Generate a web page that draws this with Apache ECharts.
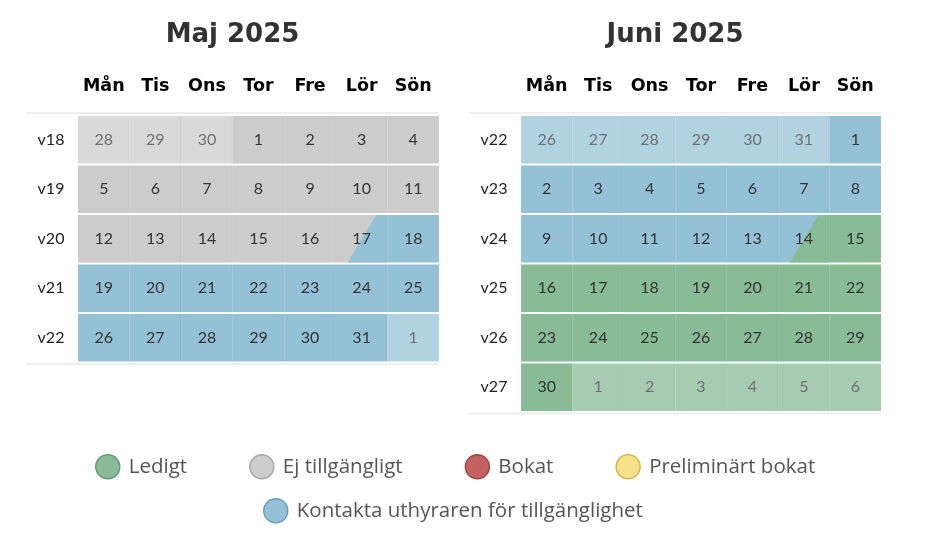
<!DOCTYPE html>
<html><head><meta charset="utf-8">
<script src="https://cdn.jsdelivr.net/npm/echarts@6/dist/echarts.min.js"></script>
<style>html,body{margin:0;padding:0;background:#fff}#c{width:952px;height:560px}</style>
</head><body><div id="c"></div>
<script>
const weekdays = ['Mån','Tis','Ons','Tor','Fre','Lör','Sön'];
const majTitle = 'Maj 2025';
const juniTitle = 'Juni 2025';
const majWeeks = ['v18','v19','v20','v21','v22'];
const juniWeeks = ['v22','v23','v24','v25','v26','v27'];
const majDays = [
  [28,29,30,1,2,3,4],
  [5,6,7,8,9,10,11],
  [12,13,14,15,16,17,18],
  [19,20,21,22,23,24,25],
  [26,27,28,29,30,31,1]
];
const majStatus = [
  ['E','E','E','E','E','E','E'],
  ['E','E','E','E','E','E','E'],
  ['E','E','E','E','E','E>K','K'],
  ['K','K','K','K','K','K','K'],
  ['K','K','K','K','K','K','K']
];
const majOutside = [
  [1,1,1,0,0,0,0],
  [0,0,0,0,0,0,0],
  [0,0,0,0,0,0,0],
  [0,0,0,0,0,0,0],
  [0,0,0,0,0,0,1]
];
const juniDays = [
  [26,27,28,29,30,31,1],
  [2,3,4,5,6,7,8],
  [9,10,11,12,13,14,15],
  [16,17,18,19,20,21,22],
  [23,24,25,26,27,28,29],
  [30,1,2,3,4,5,6]
];
const juniStatus = [
  ['K','K','K','K','K','K','K'],
  ['K','K','K','K','K','K','K'],
  ['K','K','K','K','K','K>L','L'],
  ['L','L','L','L','L','L','L'],
  ['L','L','L','L','L','L','L'],
  ['L','L','L','L','L','L','L']
];
const juniOutside = [
  [1,1,1,1,1,1,0],
  [0,0,0,0,0,0,0],
  [0,0,0,0,0,0,0],
  [0,0,0,0,0,0,0],
  [0,0,0,0,0,0,0],
  [0,1,1,1,1,1,1]
];
const legendRow1 = ['Ledigt','Ej tillgängligt','Bokat','Preliminärt bokat'];
const legendRow2 = ['Kontakta uthyraren för tillgänglighet'];
const legendCodes = {'Ledigt':'L','Ej tillgängligt':'E','Bokat':'B','Preliminärt bokat':'P','Kontakta uthyraren för tillgänglighet':'K'};

const fill = {
  L:{in:'#88bb96', out:'#a6cbb1', border:'#5f9c70'},
  E:{in:'#cccccc', out:'#d9d9d9', border:'#a9a9a9'},
  K:{in:'#95c1d7', out:'#b1d2e1', border:'#6c9bb3'},
  B:{in:'#c46262', out:'#d99090', border:'#a04545'},
  P:{in:'#f5e289', out:'#f8ecb0', border:'#cfb94e'}
};

function buildData(days){
  const d = [];
  days.forEach((row,r)=>row.forEach((day,c)=>d.push([c,r,day])));
  return d;
}

function makeRender(statusArr, outArr){
  return function(params, api){
    const c = api.value(0), r = api.value(1), day = api.value(2);
    const p = api.coord([c, r]);
    const sz = api.size([1, 1]);
    const w = sz[0], h = sz[1];
    const x0 = p[0] - w/2, x1 = p[0] + w/2;
    const y0 = p[1] - h/2 + 1, y1 = p[1] + h/2 - 1;
    const out = outArr[r][c] === 1;
    const s = statusArr[r][c].split('>');
    const colA = fill[s[0]][out ? 'out' : 'in'];
    const children = [{type:'rect', shape:{x:x0, y:y0, width:w, height:y1-y0}, style:{fill:colA}}];
    if (s.length > 1) {
      const colB = fill[s[1]][out ? 'out' : 'in'];
      const xt = x0 + w*0.78, xb = x0 + w*0.23;
      children.push({type:'polygon', shape:{points:[[xt,y0],[x1,y0],[x1,y1],[xb,y1]]}, style:{fill:colB}});
    }
    if (c < 6) {
      children.push({type:'line', shape:{x1:x1-0.5, y1:y0, x2:x1-0.5, y2:y1}, style:{stroke:'rgba(0,0,0,0.06)', lineWidth:1}});
    }
    children.push({type:'text', style:{text:String(day), x:p[0], y:(y0+y1)/2, align:'center', verticalAlign:'middle',
      fill: out ? '#707070' : '#333333', fontSize:16, fontFamily:'Lato'}});
    return {type:'group', children};
  };
}

const grids = [
  {left:78, top:115, width:361, height:247.5},
  {left:521, top:115, width:360, height:297}
];

function xAx(i){
  return {gridIndex:i, type:'category', data:weekdays, position:'top',
    axisLine:{show:false}, axisTick:{show:false}, splitLine:{show:false},
    axisLabel:{interval:0, hideOverlap:false, margin:29, verticalAlign:'middle', fontSize:17.5, fontWeight:'bold', fontFamily:'DejaVu Sans', color:'#000'}};
}
function yAx(i, weeks){
  return {gridIndex:i, type:'category', data:weeks, inverse:true,
    axisLine:{show:false}, axisTick:{show:false}, splitLine:{show:false},
    axisLabel:{interval:0, margin:27, align:'center', fontSize:16, fontFamily:'Lato', color:'#222'}};
}

const legendSeries = legendRow1.concat(legendRow2).map(n=>({
  name:n, type:'custom', xAxisIndex:0, yAxisIndex:0, data:[], renderItem:()=>null,
  itemStyle:{color:fill[legendCodes[n]].in, borderColor:fill[legendCodes[n]].border, borderWidth:1.5}
}));

function legendData(names){
  return names.map(n=>({name:n, icon:'circle',
    itemStyle:{color:fill[legendCodes[n]].in, borderColor:fill[legendCodes[n]].border, borderWidth:1.5}}));
}
const legendText = {fontSize:20.5, fontFamily:'Open Sans', color:'#555', padding:[0,0,0,4]};

const lineColor = '#efefef';
const titleStyle = {align:'center', verticalAlign:'middle', fontSize:26, fontWeight:'bold', fontFamily:'DejaVu Sans', fill:'#333'};
const option = {
  animation:false,
  grid: grids,
  xAxis: [xAx(0), xAx(1)],
  yAxis: [yAx(0, majWeeks), yAx(1, juniWeeks)],
  legend: [
    {data:legendData(legendRow1), left:95, top:454, padding:0, itemWidth:24, itemHeight:24, itemGap:62, selectedMode:false, textStyle:legendText},
    {data:legendData(legendRow2), left:263, top:498, padding:0, itemWidth:24, itemHeight:24, selectedMode:false, textStyle:legendText}
  ],
  graphic: [
    {type:'text', x:232.5, y:35, style:Object.assign({text:majTitle}, titleStyle)},
    {type:'text', x:675, y:35, style:Object.assign({text:juniTitle}, titleStyle)},
    {type:'line', shape:{x1:26, y1:113, x2:439, y2:113}, style:{stroke:lineColor, lineWidth:2}},
    {type:'line', shape:{x1:26, y1:364, x2:439, y2:364}, style:{stroke:lineColor, lineWidth:2}},
    {type:'line', shape:{x1:469, y1:113, x2:881, y2:113}, style:{stroke:lineColor, lineWidth:2}},
    {type:'line', shape:{x1:469, y1:413.5, x2:881, y2:413.5}, style:{stroke:lineColor, lineWidth:2}}
  ],
  series: [
    {type:'custom', name:'maj', xAxisIndex:0, yAxisIndex:0, data:buildData(majDays), renderItem:makeRender(majStatus, majOutside), silent:true},
    {type:'custom', name:'juni', xAxisIndex:1, yAxisIndex:1, data:buildData(juniDays), renderItem:makeRender(juniStatus, juniOutside), silent:true}
  ].concat(legendSeries)
};
const chart = echarts.init(document.getElementById('c'));
chart.setOption(option);
</script></body></html>
